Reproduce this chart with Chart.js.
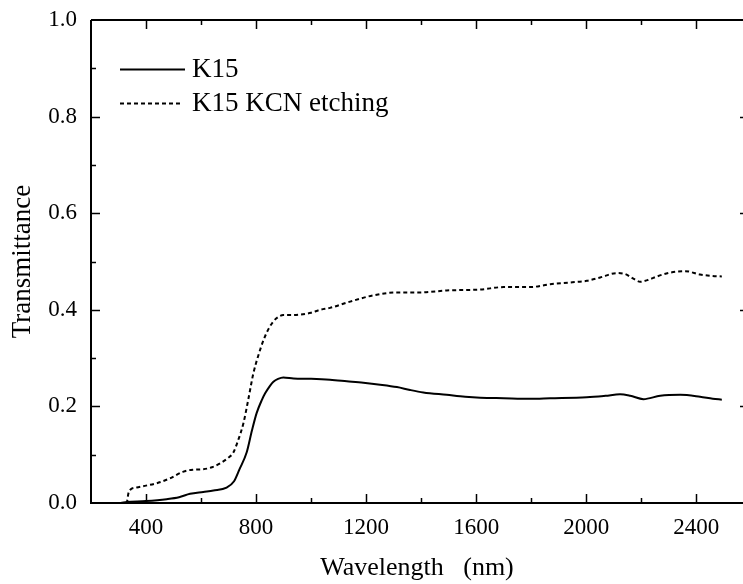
<!DOCTYPE html>
<html>
<head>
<meta charset="utf-8">
<title>Transmittance</title>
<script src="https://cdn.jsdelivr.net/npm/chart.js@4"></script>
<style>
  body { margin: 0; background: #fff; }
  canvas { display: block; }
</style>
</head>
<body>
<canvas id="transChart" width="743" height="584"></canvas>
<script>
// Series (wavelength in nm, transmittance 0..1)
const k15Wavelength = [250, 300, 330, 400, 475, 520, 560, 608, 645, 693, 720, 740, 766, 785, 802, 820, 833, 850, 863, 880, 899, 936, 1000, 1069, 1130, 1190, 1251, 1312, 1360, 1408, 1493, 1560, 1615, 1700, 1796, 1869, 2002, 2070, 2123, 2160, 2208, 2269, 2342, 2414, 2460, 2493];
const k15Values = [0, 0, 0.002, 0.004, 0.008, 0.012, 0.019, 0.023, 0.026, 0.032, 0.045, 0.07, 0.105, 0.15, 0.186, 0.212, 0.227, 0.242, 0.251, 0.257, 0.260, 0.258, 0.257, 0.255, 0.252, 0.249, 0.245, 0.240, 0.234, 0.229, 0.224, 0.220, 0.218, 0.217, 0.216, 0.217, 0.219, 0.222, 0.225, 0.222, 0.215, 0.222, 0.224, 0.220, 0.216, 0.214];

const etchWavelength = [250, 300, 330, 336, 342, 366, 400, 439, 487, 536, 570, 608, 640, 669, 700, 717, 735, 754, 772, 790, 808, 827, 845, 863, 880, 899, 930, 960, 1000, 1033, 1069, 1142, 1227, 1312, 1396, 1493, 1615, 1700, 1796, 1869, 1950, 2002, 2051, 2112, 2142, 2170, 2196, 2230, 2257, 2305, 2360, 2414, 2460, 2493];
const etchValues = [0, 0, 0.001, 0.02, 0.027, 0.032, 0.036, 0.041, 0.051, 0.065, 0.069, 0.070, 0.074, 0.082, 0.094, 0.104, 0.13, 0.165, 0.215, 0.268, 0.305, 0.337, 0.36, 0.376, 0.385, 0.389, 0.389, 0.390, 0.394, 0.400, 0.404, 0.417, 0.430, 0.436, 0.436, 0.440, 0.442, 0.447, 0.447, 0.453, 0.457, 0.460, 0.467, 0.476, 0.474, 0.465, 0.458, 0.463, 0.469, 0.477, 0.480, 0.473, 0.470, 0.469];

const seriesLabels = ['K15', 'K15 KCN etching'];
const xTickValues = [400, 800, 1200, 1600, 2000, 2400];
const yTickValues = [0, 0.2, 0.4, 0.6, 0.8, 1.0];

const FONT = '"Liberation Serif", "Times New Roman", serif';

function toPoints(xs, ys) {
    return xs.map((x, i) => ({ x: x, y: ys[i] }));
}

// Frame, inward ticks and legend drawn on top of the plot
const framePlugin = {
    id: 'frame',
    afterDraw(chart) {
        const ctx = chart.ctx;
        const area = chart.chartArea;
        const xs = chart.scales.x;
        const ys = chart.scales.y;
        ctx.save();
        ctx.strokeStyle = '#000';
        ctx.lineWidth = 2;
        ctx.setLineDash([]);

        // left, bottom and top axis lines (no right line)
        ctx.beginPath();
        ctx.moveTo(area.left, area.top);
        ctx.lineTo(area.left, area.bottom);
        ctx.lineTo(area.right, area.bottom);
        ctx.moveTo(area.left, area.top);
        ctx.lineTo(area.right, area.top);
        ctx.stroke();

        ctx.lineWidth = 1.5;
        ctx.beginPath();
        // x ticks every 200, majors on 400 steps
        for (let v = 400; v <= 2400; v += 200) {
            const px = Math.round(xs.getPixelForValue(v)) + 0.5;
            const len = (v % 400 === 0) ? 9 : 5;
            ctx.moveTo(px, area.bottom);
            ctx.lineTo(px, area.bottom - len);
            ctx.moveTo(px, area.top);
            ctx.lineTo(px, area.top + len);
        }
        // y ticks every 0.1
        for (let i = 1; i <= 9; i++) {
            const v = i / 10;
            const py = Math.round(ys.getPixelForValue(v)) + 0.5;
            const len = (i % 2 === 0) ? 9 : 5;
            ctx.moveTo(area.left, py);
            ctx.lineTo(area.left + len, py);
            if (i % 2 === 0) {
                ctx.moveTo(area.right, py);
                ctx.lineTo(area.right - 3, py);
            }
        }
        ctx.stroke();

        // legend
        ctx.font = '27px ' + FONT;
        ctx.fillStyle = '#000';
        ctx.textBaseline = 'middle';
        ctx.textAlign = 'left';
        const rows = [69, 103];
        chart.data.datasets.forEach((ds, i) => {
            const y = rows[i] + 0.5;
            ctx.lineWidth = ds.borderWidth;
            ctx.setLineDash(ds.borderDash || []);
            ctx.beginPath();
            ctx.moveTo(120, y);
            ctx.lineTo(i === 0 ? 185 : 182, y);
            ctx.stroke();
            ctx.setLineDash([]);
            ctx.fillText(ds.label, 192, rows[i] + 1);
        });
        ctx.restore();
    }
};

const chart = new Chart(document.getElementById('transChart'), {
    type: 'line',
    data: {
        datasets: [
            {
                label: seriesLabels[0],
                data: toPoints(k15Wavelength, k15Values),
                borderColor: '#000',
                borderWidth: 2,
                pointRadius: 0,
                cubicInterpolationMode: 'monotone',
                fill: false
            },
            {
                label: seriesLabels[1],
                data: toPoints(etchWavelength, etchValues),
                borderColor: '#000',
                borderWidth: 2,
                borderDash: [4, 3],
                pointRadius: 0,
                cubicInterpolationMode: 'monotone',
                fill: false
            }
        ]
    },
    options: {
        responsive: false,
        animation: false,
        layout: { padding: { top: 20, right: 0, bottom: 0, left: 0 } },
        plugins: {
            legend: { display: false },
            tooltip: { enabled: false }
        },
        scales: {
            x: {
                type: 'linear',
                min: 200,
                max: 2570,
                grid: { display: false, drawTicks: false },
                border: { display: false },
                afterBuildTicks: (scale) => {
                    scale.ticks = xTickValues.map(v => ({ value: v }));
                },
                afterFit: (scale) => {
                    scale.height = 81;
                    scale.paddingLeft = 0;
                    scale.paddingRight = 0;
                },
                ticks: {
                    color: '#000',
                    padding: 11,
                    maxRotation: 0,
                    font: { family: FONT, size: 23 },
                    callback: (v) => String(v)
                },
                title: {
                    display: true,
                    text: 'Wavelength   (nm)',
                    color: '#000',
                    padding: { top: 0, bottom: 0 },
                    font: { family: FONT, size: 26 }
                }
            },
            y: {
                type: 'linear',
                min: 0,
                max: 1,
                grid: { display: false, drawTicks: false },
                border: { display: false },
                afterBuildTicks: (scale) => {
                    scale.ticks = yTickValues.map(v => ({ value: v }));
                },
                afterFit: (scale) => {
                    scale.width = 91;
                    scale.paddingTop = 0;
                    scale.paddingBottom = 0;
                },
                ticks: {
                    color: '#000',
                    padding: 14,
                    font: { family: FONT, size: 23 },
                    callback: (v) => Number(v).toFixed(1)
                },
                title: {
                    display: true,
                    text: 'Transmittance',
                    color: '#000',
                    padding: { top: 7, bottom: 0 },
                    font: { family: FONT, size: 27 }
                }
            }
        }
    },
    plugins: [framePlugin]
});
</script>
</body>
</html>
